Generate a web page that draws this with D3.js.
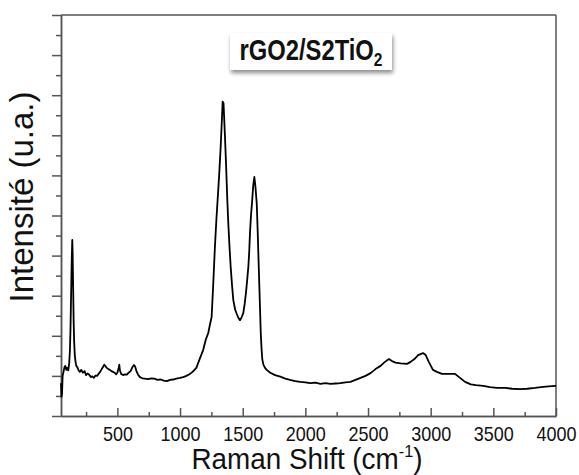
<!DOCTYPE html>
<html>
<head>
<meta charset="utf-8">
<script src="https://cdn.jsdelivr.net/npm/d3@7/dist/d3.min.js"></script>
<style>
  body { margin: 0; background: #fff; }
  svg { display: block; }
  .lbl { font-family: "Liberation Sans", Arial, sans-serif; fill: #111; }
  .axis path, .axis line { stroke: #555; stroke-width: 1.5; }
  .axis text { font-family: "Liberation Sans", Arial, sans-serif; font-size: 20px; fill: #111; }
</style>
</head>
<body>
<svg id="chart" width="579" height="475"></svg>
<script>
// Raman spectrum rGO2/S2TiO2 (u.a.)
const shift = [50, 54, 58, 63, 70, 78, 85, 92, 100, 108, 115, 121, 126, 131, 136, 140, 143, 147, 151, 155,
  160, 166, 172, 180, 190, 200, 212, 225, 238, 250, 262, 275, 288, 300, 312, 325, 338, 350, 362, 375,
  385, 395, 405, 415, 428, 440, 452, 465, 478, 490, 500, 510, 515, 520, 530, 545, 560, 575, 590, 605,
  620, 632, 642, 652, 665, 680, 700, 720, 745, 770, 795, 820, 845, 870, 895, 920, 945, 970, 1000, 1025,
  1050, 1075, 1100, 1130, 1160, 1185, 1205, 1225, 1240, 1252, 1265, 1278, 1290, 1300, 1312, 1324, 1334, 1340, 1347, 1358,
  1368, 1377, 1385, 1395, 1404, 1415, 1425, 1440, 1452, 1465, 1478, 1490, 1505, 1516, 1526, 1536, 1545, 1552, 1558, 1566,
  1575, 1584, 1593, 1602, 1612, 1620, 1628, 1636, 1644, 1650, 1656, 1665, 1678, 1691, 1720, 1758, 1800, 1840, 1877, 1920,
  1960, 2000, 2040, 2080, 2120, 2160, 2200, 2240, 2280, 2320, 2360, 2400, 2440, 2480, 2520, 2560, 2600, 2635, 2667, 2691,
  2720, 2760, 2811, 2840, 2870, 2900, 2939, 2960, 2985, 3018, 3050, 3090, 3140, 3194, 3234, 3274, 3320, 3360, 3420, 3473,
  3530, 3593, 3650, 3713, 3770, 3832, 3880, 3940, 4000];
const intensity = [0.82, 0.48, 0.55, 1.00, 1.10, 1.22, 1.25, 1.15, 1.20, 1.14, 1.30, 1.62, 2.20, 3.10, 3.95, 4.39, 4.05, 3.20, 2.35, 1.85,
  1.52, 1.35, 1.25, 1.22, 1.14, 1.10, 1.15, 1.08, 1.12, 1.02, 1.06, 1.03, 0.97, 0.99, 0.95, 1.01, 1.00, 1.05, 1.10, 1.17,
  1.22, 1.28, 1.24, 1.20, 1.17, 1.15, 1.12, 1.10, 1.08, 1.04, 1.08, 1.20, 1.28, 1.14, 1.05, 1.02, 1.04, 1.03, 1.08, 1.12,
  1.22, 1.27, 1.23, 1.12, 1.03, 0.97, 0.94, 0.93, 0.92, 0.94, 0.93, 0.90, 0.91, 0.88, 0.87, 0.90, 0.91, 0.93, 0.95, 0.97,
  1.00, 1.04, 1.10, 1.20, 1.45, 1.65, 1.90, 2.07, 2.30, 2.47, 3.30, 4.20, 4.90, 5.40, 6.00, 6.70, 7.40, 7.84, 7.80, 7.00,
  6.20, 5.40, 4.80, 4.20, 3.72, 3.25, 2.89, 2.65, 2.55, 2.45, 2.39, 2.45, 2.57, 2.80, 3.07, 3.40, 3.72, 4.10, 4.56, 5.00,
  5.35, 5.75, 5.96, 5.70, 5.30, 4.56, 3.72, 2.90, 2.07, 1.70, 1.42, 1.28, 1.20, 1.15, 1.08, 1.02, 0.98, 0.93, 0.90, 0.87,
  0.85, 0.84, 0.82, 0.83, 0.80, 0.82, 0.80, 0.81, 0.82, 0.84, 0.85, 0.90, 0.95, 1.00, 1.07, 1.17, 1.25, 1.35, 1.42, 1.37,
  1.33, 1.31, 1.30, 1.35, 1.42, 1.52, 1.57, 1.52, 1.35, 1.15, 1.10, 1.05, 1.05, 1.05, 0.95, 0.85, 0.79, 0.77, 0.75, 0.72,
  0.70, 0.70, 0.68, 0.67, 0.68, 0.70, 0.72, 0.74, 0.75];

const xMajor = [500, 1000, 1500, 2000, 2500, 3000, 3500, 4000];
const xMinor = [250, 750, 1250, 1750, 2250, 2750, 3250, 3750];
const yMajor = [0, 1, 2, 3, 4, 5, 6, 7, 8, 9, 10];
const yMinor = [0.5, 1.5, 2.5, 3.5, 4.5, 5.5, 6.5, 7.5, 8.5, 9.5];

const mLeft = 61, mRight = 556, mTop = 15, mBottom = 416;
const svg = d3.select("#chart");

let x = d3.scaleLinear().domain([50, 4000]).range([mLeft, mRight]);
let y = d3.scaleLinear().domain([0, 10]).range([mBottom, mTop]);

// frame (top + right)
svg.append("line").attr("x1", mLeft).attr("x2", mRight).attr("y1", mTop).attr("y2", mTop)
    .attr("stroke", "#555").attr("stroke-width", 1.5);
svg.append("line").attr("x1", mRight).attr("x2", mRight).attr("y1", mTop).attr("y2", mBottom)
    .attr("stroke", "#555").attr("stroke-width", 1.5);

// x axis, ticks pointing inside
svg.append("g").attr("class", "axis")
    .attr("transform", "translate(0," + mBottom + ")")
    .call(d3.axisBottom(x).tickValues(xMinor).tickSizeInner(-4).tickSizeOuter(0).tickFormat(""));
let xAxis = svg.append("g").attr("class", "axis")
    .attr("transform", "translate(0," + mBottom + ")")
    .call(d3.axisBottom(x).tickValues(xMajor).tickSizeInner(-8).tickSizeOuter(0).tickPadding(11).tickFormat(d3.format("d")));
// narrow digits like the original
xAxis.selectAll("text").attr("transform", "scale(0.9,1)");

// y axis, no labels
svg.append("g").attr("class", "axis")
    .attr("transform", "translate(" + mLeft + ",0)")
    .call(d3.axisLeft(y).tickValues(yMinor).tickSizeInner(5).tickSizeOuter(0).tickFormat(""));
svg.append("g").attr("class", "axis")
    .attr("transform", "translate(" + mLeft + ",0)")
    .call(d3.axisLeft(y).tickValues(yMajor).tickSizeInner(9).tickSizeOuter(0).tickFormat(""));

// spectrum
let line = d3.line().x((d, i) => x(shift[i])).y(d => y(d));
svg.append("path")
    .datum(intensity)
    .attr("fill", "none")
    .attr("stroke", "#000")
    .attr("stroke-width", 1.8)
    .attr("stroke-linejoin", "round")
    .attr("d", line);

// title box with shadow
let defs = svg.append("defs");
let f = defs.append("filter").attr("id", "shadow").attr("x", "-10%").attr("y", "-20%").attr("width", "130%").attr("height", "160%");
f.append("feDropShadow").attr("dx", 1).attr("dy", 3).attr("stdDeviation", 2).attr("flood-color", "#000").attr("flood-opacity", 0.45);
svg.append("rect")
    .attr("x", 230).attr("y", 33).attr("width", 162).attr("height", 37)
    .attr("fill", "#fff").attr("filter", "url(#shadow)");
let tt = svg.append("text").attr("class", "lbl")
    .attr("transform", "translate(311,60) scale(0.82,1)")
    .attr("text-anchor", "middle")
    .style("font-size", "29px").style("font-weight", "bold");
tt.append("tspan").text("rGO2/S2TiO");
tt.append("tspan").attr("dy", 6).style("font-size", "19px").text("2");

// axis titles
let xt = svg.append("text").attr("class", "lbl")
    .attr("transform", "translate(307,469) scale(0.96,1)")
    .attr("text-anchor", "middle")
    .style("font-size", "29px");
xt.append("tspan").text("Raman Shift (cm");
xt.append("tspan").attr("dy", -12).style("font-size", "17px").text("-1");
xt.append("tspan").attr("dy", 12).text(")");

svg.append("text").attr("class", "lbl")
    .attr("transform", "translate(33,197) rotate(-90)")
    .attr("text-anchor", "middle")
    .style("font-size", "33px")
    .text("Intensité (u.a.)");
</script>
</body>
</html>
